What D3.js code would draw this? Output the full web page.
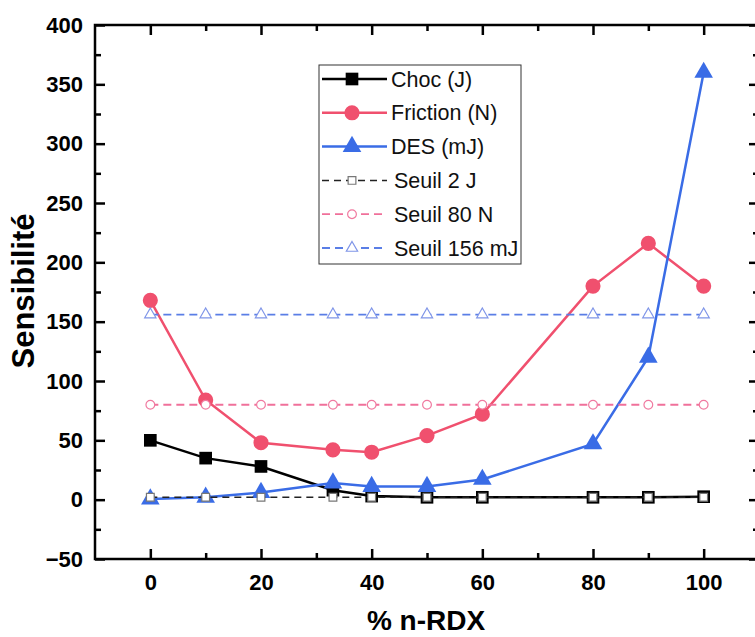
<!DOCTYPE html>
<html><head><meta charset="utf-8">
<script src="https://cdn.jsdelivr.net/npm/d3@7"></script>
<style>body{margin:0;background:#fff}svg{display:block}</style>
</head><body><svg id="c" width="755" height="637"></svg>
<script>
const xValues = [0, 10, 20, 33, 40, 50, 60, 80, 90, 100];
const choc = [50, 35, 28, 8, 3, 2, 2, 2, 2, 2.5];
const friction = [168, 84, 48, 42, 40, 54, 72, 180, 216, 180];
const des = [0.5, 2, 6, 14, 11, 11, 17, 47, 120, 360];
const seuilChoc = [2, 2, 2, 2, 2, 2, 2, 2, 2, 2];
const seuilFriction = [80, 80, 80, 80, 80, 80, 80, 80, 80, 80];
const seuilDes = [156, 156, 156, 156, 156, 156, 156, 156, 156, 156];
const xTicks = [0, 20, 40, 60, 80, 100];
const xMinor = [10, 30, 50, 70, 90];
const yTicks = [-50, 0, 50, 100, 150, 200, 250, 300, 350, 400];
const yMinor = [-25, 25, 75, 125, 175, 225, 275, 325, 375];
const legendLabels = ["Choc (J)", "Friction (N)", "DES (mJ)", "Seuil 2 J", "Seuil 80 N", "Seuil 156 mJ"];

const svg = d3.select("#c");
const L = 95, R = 759, T = 25, B = 559;
const x = d3.scaleLinear().domain([-10, 110]).range([L, R]);
const y = d3.scaleLinear().domain([-50, 400]).range([B, T]);
const FONT = "'Liberation Sans', Arial, sans-serif";

const RED = "#f0506e", BLUE = "#3a6ce6";
const series = [
  {vals: choc, color: "#000", sym: d3.symbolSquare, size: 160, fill: "#000", dash: null, w: 2.5},
  {vals: friction, color: RED, sym: d3.symbolCircle, size: 180, fill: RED, dash: null, w: 2.5},
  {vals: des, color: BLUE, sym: d3.symbolTriangle, size: 150, fill: BLUE, dash: null, w: 2.5},
  {vals: seuilChoc, color: "#222", sym: d3.symbolSquare, size: 60, fill: "#fff", mstroke: "#777", dash: "7,5", w: 1.5},
  {vals: seuilFriction, color: "#f0709a", sym: d3.symbolCircle, size: 60, fill: "#fff", mstroke: "#f07aa0", dash: "8,5", w: 1.8},
  {vals: seuilDes, color: "#5a7ee6", sym: d3.symbolTriangle, size: 55, fill: "#fff", mstroke: "#7f95e8", dash: "8,5", w: 1.8}
];

// axes (inward ticks)
const axL = d3.axisLeft(y).tickValues(yTicks).tickSizeInner(-10).tickSizeOuter(0).tickPadding(12);
const axLm = d3.axisLeft(y).tickValues(yMinor).tickSizeInner(-6).tickSizeOuter(0).tickFormat("");
const axB = d3.axisBottom(x).tickValues(xTicks).tickSizeInner(-10).tickSizeOuter(0).tickPadding(15);
const axBm = d3.axisBottom(x).tickValues(xMinor).tickSizeInner(-6).tickSizeOuter(0).tickFormat("");
const axT = d3.axisTop(x).tickValues(xTicks).tickSizeInner(-10).tickSizeOuter(0).tickFormat("");
const axTm = d3.axisTop(x).tickValues(xMinor).tickSizeInner(-6).tickSizeOuter(0).tickFormat("");
const axR = d3.axisRight(y).tickValues(yTicks).tickSizeInner(-10).tickSizeOuter(0).tickFormat("");
const axRm = d3.axisRight(y).tickValues(yMinor).tickSizeInner(-6).tickSizeOuter(0).tickFormat("");

function styleAxis(g) {
  g.select(".domain").remove();
  g.selectAll(".tick line").attr("stroke", "#000").attr("stroke-width", 2.5);
  g.selectAll("text").attr("font-family", FONT).attr("font-weight", "bold").attr("font-size", 22).attr("fill", "#000");
}
svg.append("g").attr("transform", `translate(${L},0)`).call(axL).call(styleAxis);
svg.append("g").attr("transform", `translate(${L},0)`).call(axLm).call(styleAxis);
svg.append("g").attr("transform", `translate(0,${B})`).call(axB).call(styleAxis);
svg.append("g").attr("transform", `translate(0,${B})`).call(axBm).call(styleAxis);
svg.append("g").attr("transform", `translate(0,${T})`).call(axT).call(styleAxis);
svg.append("g").attr("transform", `translate(0,${T})`).call(axTm).call(styleAxis);
svg.append("g").attr("transform", `translate(${R},0)`).call(axR).call(styleAxis);
svg.append("g").attr("transform", `translate(${R},0)`).call(axRm).call(styleAxis);

svg.append("rect").attr("x", L).attr("y", T).attr("width", R - L).attr("height", B - T)
  .attr("fill", "none").attr("stroke", "#000").attr("stroke-width", 2.5);

// axis titles
svg.append("text").attr("x", 426).attr("y", 630).attr("text-anchor", "middle")
  .attr("font-family", FONT).attr("font-weight", "bold").attr("font-size", 28).text("% n-RDX");
svg.append("text").attr("transform", "translate(34,291) rotate(-90)").attr("text-anchor", "middle")
  .attr("font-family", FONT).attr("font-weight", "bold").attr("font-size", 31).text("Sensibilité");

// lines - main series first, thresholds drawn on top
const line = d3.line().x((d, i) => x(xValues[i])).y(d => y(d));
series.forEach(s => {
  svg.append("path").datum(s.vals).attr("d", line).attr("fill", "none")
    .attr("stroke", s.color).attr("stroke-width", s.w)
    .attr("stroke-dasharray", s.dash);
  svg.append("g").selectAll("path").data(s.vals).join("path")
    .attr("transform", (d, i) => `translate(${x(xValues[i])},${y(d)})`)
    .attr("d", d3.symbol().type(s.sym).size(s.size))
    .attr("fill", s.fill)
    .attr("stroke", s.mstroke || "none").attr("stroke-width", 1.2);
});

// legend
const lg = svg.append("g");
lg.append("rect").attr("x", 319).attr("y", 65).attr("width", 202).attr("height", 199)
  .attr("fill", "#fff").attr("stroke", "#333").attr("stroke-width", 1);
const ly = d3.scalePoint().domain(d3.range(6)).range([79, 248]);
series.forEach((s, i) => {
  const yy = ly(i);
  lg.append("line").attr("x1", 322).attr("x2", 387).attr("y1", yy).attr("y2", yy)
    .attr("stroke", s.color).attr("stroke-width", s.w).attr("stroke-dasharray", s.dash);
  lg.append("path").attr("transform", `translate(352,${yy})`)
    .attr("d", d3.symbol().type(s.sym).size(s.size)).attr("fill", s.fill)
    .attr("stroke", s.mstroke || "none").attr("stroke-width", 1.2);
  lg.append("text").attr("x", i < 3 ? 391 : 394).attr("y", yy + 7.5)
    .attr("font-family", FONT).attr("font-size", 21.5).attr("fill", "#111").text(legendLabels[i]);
});
</script></body></html>
